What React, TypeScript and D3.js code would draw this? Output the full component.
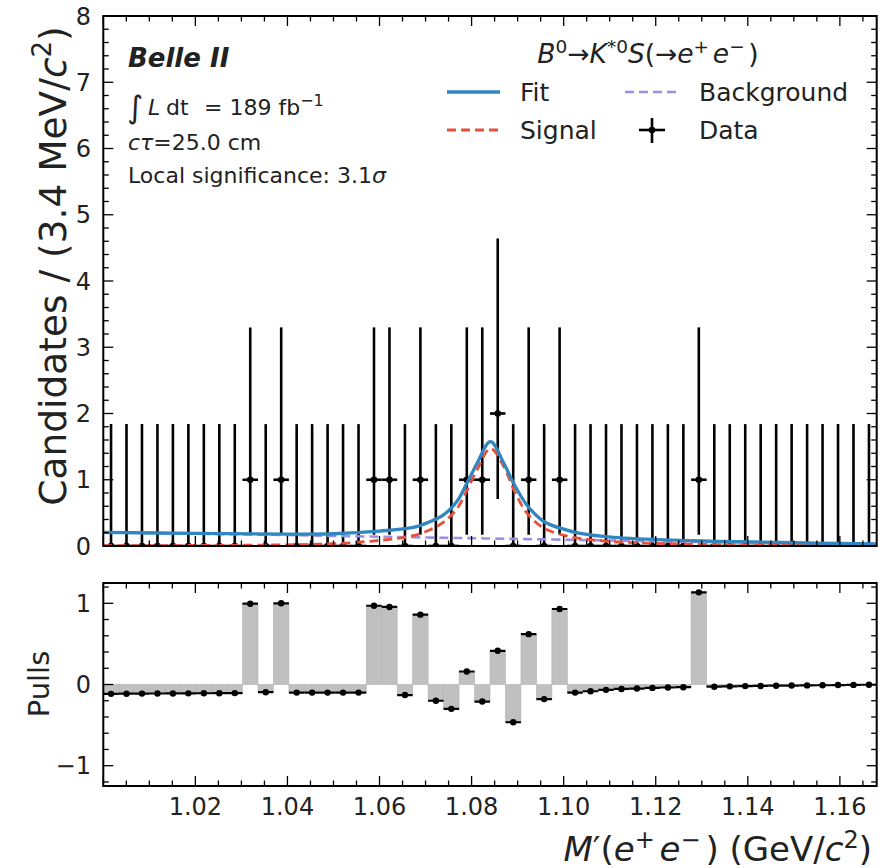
import React from "react";
import * as d3 from "d3";

// ---- data ----
const massRange = [1.0, 1.168];

// candidates per 3.4 MeV bin (50 bins)
const counts = [
  0, 0, 0, 0, 0, 0, 0, 0, 0, 1,
  0, 1, 0, 0, 0, 0, 0, 1, 1, 0,
  1, 0, 0, 1, 1, 2, 0, 1, 0, 1,
  0, 0, 0, 0, 0, 0, 0, 0, 1, 0,
  0, 0, 0, 0, 0, 0, 0, 0, 0, 0,
];

// Poisson 68% interval ends, indexed by count
const poissonLow = [0, 0.17, 0.71];
const poissonHigh = [1.84, 3.3, 4.64];

const pulls = [
  -0.115, -0.113, -0.112, -0.111, -0.11, -0.109, -0.108, -0.107, -0.106, 0.995,
  -0.095, 1.0, -0.1, -0.1, -0.1, -0.1, -0.1, 0.97, 0.955, -0.13,
  0.86, -0.2, -0.3, 0.16, -0.21, 0.415, -0.465, 0.62, -0.18, 0.93,
  -0.1, -0.083, -0.066, -0.055, -0.05, -0.042, -0.037, -0.033, 1.135, -0.027,
  -0.023, -0.02, -0.018, -0.015, -0.013, -0.011, -0.009, -0.007, -0.005, -0.003,
];

// fit model curves
const curveMass = [
  1.0, 1.02, 1.04, 1.05, 1.06, 1.0673, 1.071, 1.0739, 1.0768, 1.079, 1.0812,
  1.0841, 1.087, 1.0891, 1.092, 1.0957, 1.1007, 1.1036, 1.1108, 1.1254, 1.1471, 1.168,
];
const fitVals = [
  0.207, 0.19, 0.18, 0.185, 0.225, 0.28, 0.37, 0.47, 0.67, 0.95, 1.25,
  1.575, 1.25, 0.95, 0.62, 0.37, 0.24, 0.19, 0.13, 0.085, 0.055, 0.03,
];
const signalVals = [
  0.004, 0.008, 0.018, 0.035, 0.085, 0.155, 0.245, 0.36, 0.56, 0.84, 1.15,
  1.47, 1.2, 0.86, 0.5, 0.27, 0.15, 0.115, 0.065, 0.032, 0.014, 0.007,
];
const bgVals = [
  0.207, 0.186, 0.165, 0.152, 0.14, 0.132, 0.127, 0.124, 0.121, 0.119, 0.117,
  0.113, 0.11, 0.108, 0.104, 0.1, 0.094, 0.09, 0.082, 0.066, 0.044, 0.022,
];

const xTickLabels = ["1.02", "1.04", "1.06", "1.08", "1.10", "1.12", "1.14", "1.16"];
const mainTicks = [0, 1, 2, 3, 4, 5, 6, 7, 8];
const pullTicks = [-1, 0, 1];

// ---- layout ----
const W = 879;
const H = 868;
const L = 103.3;
const R = 876.7;
const MT = 16;
const MB = 546;
const PT = 583;
const PB = 786;

const FIT = "#2f86c0";
const SIG = "#e8503a";
const BKG = "#9d8fe3";
const FONT = "DejaVu Sans";

const Ticks = ({ x, y, top, bottom, left, right }) => {
  const xMajor = xTickLabels.map(Number).concat([1.0]);
  const xMinor = d3.range(1.005, 1.168, 0.005).filter((v) => !xMajor.some((m) => Math.abs(m - v) < 1e-6));
  const [y0, y1] = y.domain();
  const yMajor = d3.range(Math.ceil(y0), Math.floor(y1) + 1e-9, 1);
  const yMinor = d3.range(Math.ceil(y0 / 0.2) * 0.2, y1 + 1e-9, 0.2).filter((v) => Math.abs(v - Math.round(v)) > 1e-6);
  const st = { stroke: "#000", strokeWidth: 1.3 };
  return (
    <g>
      {xMajor.map((v, i) => (
        <g key={"xM" + i}>
          <line x1={x(v)} x2={x(v)} y1={bottom} y2={bottom - 10} {...st} />
          <line x1={x(v)} x2={x(v)} y1={top} y2={top + 10} {...st} />
        </g>
      ))}
      {xMinor.map((v, i) => (
        <g key={"xm" + i}>
          <line x1={x(v)} x2={x(v)} y1={bottom} y2={bottom - 5.5} {...st} />
          <line x1={x(v)} x2={x(v)} y1={top} y2={top + 5.5} {...st} />
        </g>
      ))}
      {yMajor.map((v, i) => (
        <g key={"yM" + i}>
          <line x1={left} x2={left + 10} y1={y(v)} y2={y(v)} {...st} />
          <line x1={right} x2={right - 10} y1={y(v)} y2={y(v)} {...st} />
        </g>
      ))}
      {yMinor.map((v, i) => (
        <g key={"ym" + i}>
          <line x1={left} x2={left + 5.5} y1={y(v)} y2={y(v)} {...st} />
          <line x1={right} x2={right - 5.5} y1={y(v)} y2={y(v)} {...st} />
        </g>
      ))}
    </g>
  );
};

// parts: [text, kind] with kind "n" normal, "i" italic, "s" superscript
const MathSpans = ({ parts, supSize, up }) => {
  let inSup = false;
  return (
    <>
      {parts.map(([t, k], i) => {
        const sup = k === "s";
        const dy = sup && !inSup ? -up : !sup && inSup ? up : undefined;
        inSup = sup;
        return (
          <tspan
            key={i}
            dy={dy}
            fontSize={sup ? supSize : undefined}
            fontStyle={k === "i" ? "italic" : undefined}
          >
            {t}
          </tspan>
        );
      })}
    </>
  );
};

export default function App() {
  const x = d3.scaleLinear().domain(massRange).range([L, R]);
  const y = d3.scaleLinear().domain([0, 8]).range([MB, MT]);
  const yp = d3.scaleLinear().domain([-1.25, 1.25]).range([PB, PT]);
  const binW = (massRange[1] - massRange[0]) / counts.length;
  const centres = counts.map((_, i) => massRange[0] + (i + 0.5) * binW);

  const line = (vals) =>
    d3
      .line()
      .x((_, i) => x(curveMass[i]))
      .y((d) => y(d))
      .curve(d3.curveCatmullRom.alpha(0.5))(vals);

  return (
    <svg
      width={W}
      height={H}
      style={{ position: "fixed", left: 0, top: 0, background: "#fff" }}
      fontFamily={FONT}
    >
      <defs>
        <clipPath id="mainClip">
          <rect x={L} y={MT} width={R - L} height={MB - MT} />
        </clipPath>
        <clipPath id="pullClip">
          <rect x={L} y={PT} width={R - L} height={PB - PT} />
        </clipPath>
      </defs>
      <rect width={W} height={H} fill="#fff" />

      {/* ---------- main panel ---------- */}
      <g clipPath="url(#mainClip)">
        {counts.map((c, i) => (
          <g key={"d" + i}>
            <line
              x1={x(centres[i])}
              x2={x(centres[i])}
              y1={y(poissonLow[c])}
              y2={y(poissonHigh[c])}
              stroke="#000"
              strokeWidth={2.6}
            />
            <line
              x1={x(centres[i] - binW / 2)}
              x2={x(centres[i] + binW / 2)}
              y1={y(c)}
              y2={y(c)}
              stroke="#000"
              strokeWidth={2.6}
            />
            <circle cx={x(centres[i])} cy={y(c)} r={3.3} fill="#000" />
          </g>
        ))}
        <path d={line(bgVals)} fill="none" stroke={BKG} strokeWidth={2.6} strokeDasharray="9,5" />
        <path d={line(signalVals)} fill="none" stroke={SIG} strokeWidth={2.8} strokeDasharray="9,5" />
        <path d={line(fitVals)} fill="none" stroke={FIT} strokeWidth={3.3} />
      </g>
      <Ticks x={x} y={y} top={MT} bottom={MB} left={L} right={R} />
      <rect x={L} y={MT} width={R - L} height={MB - MT} fill="none" stroke="#000" strokeWidth={2} />
      {mainTicks.map((t) => (
        <text key={"yt" + t} x={91} y={y(t) + 8.5} fontSize={24} textAnchor="end" fill="#222">
          {t}
        </text>
      ))}
      <text transform={`translate(66,266) rotate(-90)`} fontSize={37.5} textAnchor="middle" fill="#222">
        <MathSpans
          parts={[["Candidates / (3.4 MeV/", "n"], ["c", "i"], ["2", "s"], [")", "n"]]}
          supSize={26}
          up={15}
        />
      </text>

      {/* annotations */}
      <text x={128} y={67} fontSize={26} fontWeight="bold" fontStyle="italic" fill="#222">
        Belle II
      </text>
      <text y={115} fontSize={22} fill="#222">
        <tspan x={127} fontSize={31} dy={3}>∫</tspan>
        <tspan x={148} dy={-3} fontStyle="italic">L</tspan>
        <tspan x={166}>dt</tspan>
        <tspan x={204}>= 189 fb</tspan>
        <tspan dy={-9} fontSize={16}>−1</tspan>
      </text>
      <text x={128} y={150} fontSize={22} fill="#222">
        <tspan fontStyle="italic">cτ</tspan>=25.0 cm
      </text>
      <text x={128} y={183} fontSize={22} fill="#222">
        Local significance: 3.1<tspan fontStyle="italic">σ</tspan>
      </text>

      {/* legend */}
      <text x={648} y={63} fontSize={26.5} textAnchor="middle" fill="#222">
        <MathSpans
          parts={[
            ["B", "i"],
            ["0", "s"],
            ["→", "n"],
            ["K", "i"],
            ["*0", "s"],
            ["S", "i"],
            ["(→", "n"],
            ["e", "i"],
            ["+\u2009", "s"],
            ["e", "i"],
            ["−\u2009", "s"],
            [")", "n"],
          ]}
          supSize={18.5}
          up={10}
        />
      </text>
      <line x1={447} x2={500} y1={92} y2={92} stroke={FIT} strokeWidth={3.3} />
      <text x={520} y={101} fontSize={25} fill="#222">Fit</text>
      <line x1={447} x2={500} y1={130} y2={130} stroke={SIG} strokeWidth={2.8} strokeDasharray="9,5" />
      <text x={520} y={139} fontSize={25} fill="#222">Signal</text>
      <line x1={625} x2={677} y1={92} y2={92} stroke={BKG} strokeWidth={2.6} strokeDasharray="9,5" />
      <text x={699} y={101} fontSize={25} fill="#222">Background</text>
      <line x1={652} x2={652} y1={118} y2={143} stroke="#000" strokeWidth={2.6} />
      <line x1={639} x2={665} y1={130} y2={130} stroke="#000" strokeWidth={2.6} />
      <circle cx={652} cy={130} r={3.3} fill="#000" />
      <text x={699} y={139} fontSize={25} fill="#222">Data</text>

      {/* ---------- pull panel ---------- */}
      <g clipPath="url(#pullClip)">
        {pulls.map((p, i) => (
          <rect
            key={"pb" + i}
            x={x(centres[i] - binW / 2)}
            width={x(centres[i] + binW / 2) - x(centres[i] - binW / 2)}
            y={Math.min(yp(p), yp(0))}
            height={Math.abs(yp(p) - yp(0))}
            fill="#c0c0c0"
            stroke="#b2b2b2"
            strokeWidth={0.6}
          />
        ))}
        {pulls.map((p, i) => (
          <g key={"pp" + i}>
            <line
              x1={x(centres[i] - binW / 2)}
              x2={x(centres[i] + binW / 2)}
              y1={yp(p)}
              y2={yp(p)}
              stroke="#000"
              strokeWidth={2.2}
            />
            <circle cx={x(centres[i])} cy={yp(p)} r={3.2} fill="#000" />
          </g>
        ))}
      </g>
      <Ticks x={x} y={yp} top={PT} bottom={PB} left={L} right={R} />
      <rect x={L} y={PT} width={R - L} height={PB - PT} fill="none" stroke="#000" strokeWidth={2} />
      {pullTicks.map((t) => (
        <text key={"pt" + t} x={91} y={yp(t) + 8.5} fontSize={24} textAnchor="end" fill="#222">
          {t < 0 ? "−" + Math.abs(t) : t}
        </text>
      ))}
      {xTickLabels.map((t) => (
        <text key={"xt" + t} x={x(Number(t))} y={815} fontSize={24} textAnchor="middle" fill="#222">
          {t}
        </text>
      ))}
      <text transform={`translate(49,684) rotate(-90)`} fontSize={29} textAnchor="middle" fill="#222">
        Pulls
      </text>
      <text x={872} y={861} fontSize={34} textAnchor="end" fill="#222">
        <MathSpans
          parts={[
            ["M", "i"],
            ["′(", "n"],
            ["e", "i"],
            ["+\u2009", "s"],
            ["e", "i"],
            ["−\u2009", "s"],
            [") (GeV/", "n"],
            ["c", "i"],
            ["2", "s"],
            [")", "n"],
          ]}
          supSize={24}
          up={13}
        />
      </text>
    </svg>
  );
}
